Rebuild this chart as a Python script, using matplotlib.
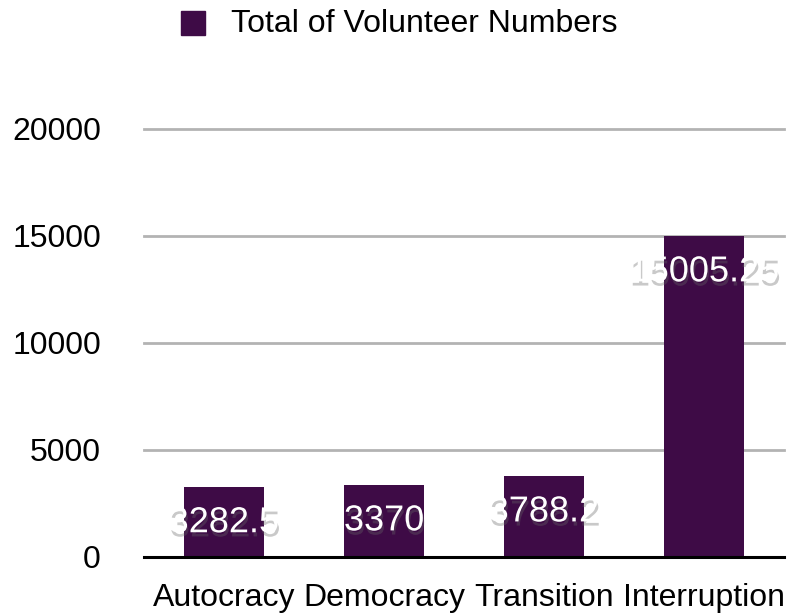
import matplotlib
matplotlib.use("Agg")
import matplotlib.pyplot as plt
import matplotlib.patheffects as pe
from matplotlib.patches import Rectangle

categories = ["Autocracy", "Democracy", "Transition", "Interruption"]
values = [3282.5, 3370, 3788.2, 15005.25]
value_labels = ["3282.5", "3370", "3788.2", "15005.25"]
yticks = [0, 5000, 10000, 15000, 20000]
series_name = "Total of Volunteer Numbers"

W, H = 788, 615
dpi = 100
fig = plt.figure(figsize=(W / dpi, H / dpi), dpi=dpi)
plt.rcParams['font.family'] = ['Liberation Sans', 'DejaVu Sans']

left, right = 144, 784
bottom, top = 557, 129
ax = fig.add_axes([left / W, 1 - bottom / H, (right - left) / W, (bottom - top) / H])
ax.set_xlim(-0.5, len(categories) - 0.5)
ax.set_ylim(0, 20000)

color = "#3e0b46"
x = list(range(len(categories)))
bars = ax.bar(x, values, width=0.5, color=color, zorder=3)

for yt in yticks[1:]:
    ax.axhline(yt, color="#b3b3b3", lw=2, zorder=1, clip_on=False)
ax.axhline(0, color="black", lw=2.2, zorder=4, clip_on=False)

for s in ax.spines.values():
    s.set_visible(False)
ax.set_yticks(yticks)
ax.set_yticklabels([str(t) for t in yticks], fontsize=23)
ax.tick_params(axis='y', length=0, pad=31)
ax.set_xticks(x)
ax.set_xticklabels(categories, fontsize=23)
ax.tick_params(axis='x', length=0, pad=19)

shadow = [pe.SimplePatchShadow(offset=(1, -3), shadow_rgbFace="#666666", alpha=0.35), pe.Normal()]
for xi, v, lab in zip(x, values, value_labels):
    ax.annotate(lab, (xi, v), xytext=(0, -36), textcoords="offset pixels",
                ha="center", va="center", fontsize=26, color="white",
                path_effects=shadow, zorder=5)

# legend
fig.patches.append(Rectangle((181 / W, 1 - 35 / H), 24 / W, 24 / H,
                             transform=fig.transFigure, color=color, figure=fig))
fig.text(231 / W, 1 - 24 / H, series_name, fontsize=23, va="center", ha="left")

fig.savefig("out.png", dpi=dpi)
